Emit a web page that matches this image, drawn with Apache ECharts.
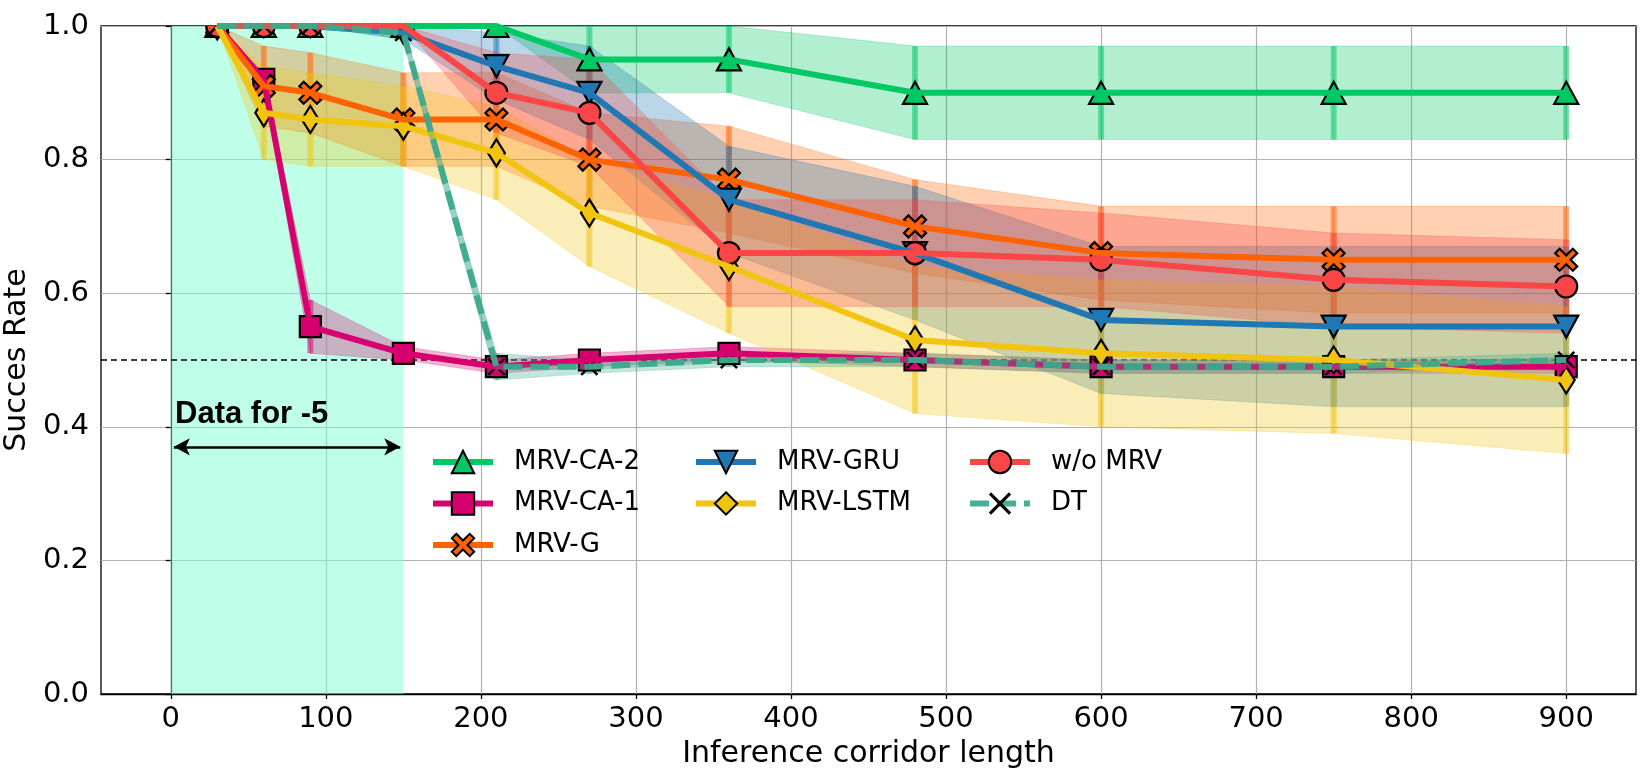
<!DOCTYPE html>
<html>
<head>
<meta charset="utf-8">
<title>Succes Rate</title>
<script src="https://cdn.jsdelivr.net/npm/echarts@6/dist/echarts.min.js"></script>
<style>
  html, body { margin: 0; padding: 0; background: #fff; }
  #main { width: 1641px; height: 775px; }
</style>
</head>
<body>
<div id="main"></div>
<script>
// corridor lengths (x) and the mean / std of the success rate per model
var lengths = [30, 60, 90, 150, 210, 270, 360, 480, 600, 750, 900];
var xTicks = [0, 100, 200, 300, 400, 500, 600, 700, 800, 900];

var caTwoMean = [1.0, 1.0, 1.0, 1.0, 1.0, 0.95, 0.95, 0.90, 0.90, 0.90, 0.90];
var caTwoStd  = [0, 0, 0, 0, 0, 0.05, 0.05, 0.07, 0.07, 0.07, 0.07];

var caOneMean = [1.0, 0.92, 0.55, 0.51, 0.49, 0.50, 0.51, 0.50, 0.49, 0.49, 0.49];
var caOneStd  = [0, 0.01, 0.04, 0.01, 0.01, 0.01, 0.01, 0.01, 0.01, 0.01, 0.01];

var gMean = [1.0, 0.91, 0.90, 0.86, 0.86, 0.80, 0.77, 0.70, 0.66, 0.65, 0.65];
var gStd  = [0, 0.06, 0.06, 0.07, 0.07, 0.07, 0.08, 0.07, 0.07, 0.08, 0.08];

var gruMean = [1.0, 1.0, 1.0, 0.99, 0.94, 0.90, 0.74, 0.66, 0.56, 0.55, 0.55];
var gruStd  = [0, 0, 0, 0.01, 0.05, 0.07, 0.08, 0.10, 0.11, 0.12, 0.12];

var lstmMean = [1.0, 0.87, 0.86, 0.85, 0.81, 0.72, 0.64, 0.53, 0.51, 0.50, 0.47];
var lstmStd  = [0, 0.07, 0.07, 0.06, 0.07, 0.08, 0.10, 0.11, 0.11, 0.11, 0.11];

var noMrvMean = [1.0, 1.0, 1.0, 1.0, 0.90, 0.87, 0.66, 0.66, 0.65, 0.62, 0.61];
var noMrvStd  = [0, 0, 0, 0, 0.06, 0.08, 0.08, 0.08, 0.07, 0.07, 0.07];

var dtMean = [1.0, 1.0, 1.0, 0.99, 0.49, 0.49, 0.50, 0.50, 0.49, 0.49, 0.50];
var dtStd  = [0, 0, 0, 0.01, 0.02, 0.01, 0.01, 0.01, 0.01, 0.01, 0.01];

// annotation: training data range and chance level
var trainRange = [0, 150];
var arrowEnds = [2, 148];
var arrowY = 0.37;
var chanceLevel = 0.5;

var P_TRI_UP = 'M5,0 L10,9 L0,9 Z';
var P_TRI_DOWN = 'M0,0 L10,0 L5,9 Z';
var P_RECT = 'M0,0 L10,0 L10,10 L0,10 Z';
var P_DIAMOND = 'M5,0 L10,5 L5,10 L0,5 Z';
var P_X_FILLED = 'M2,0 L5,3 L8,0 L10,2 L7,5 L10,8 L8,10 L5,7 L2,10 L0,8 L3,5 L0,2 Z';
var P_X_THIN = 'M1,0 L5,4 L9,0 L10,1 L6,5 L10,9 L9,10 L5,6 L1,10 L0,9 L4,5 L0,1 Z';

var models = [
  { name: 'MRV-CA-2', color: '#00c864', mean: caTwoMean, std: caTwoStd, path: P_TRI_UP, w: 24, h: 22 },
  { name: 'MRV-CA-1', color: '#d6006e', mean: caOneMean, std: caOneStd, path: P_RECT, w: 21, h: 21 },
  { name: 'MRV-G', color: '#ff6200', mean: gMean, std: gStd, path: P_X_FILLED, w: 22, h: 22 },
  { name: 'MRV-GRU', color: '#1f77b4', mean: gruMean, std: gruStd, path: P_TRI_DOWN, w: 24, h: 22 },
  { name: 'MRV-LSTM', color: '#f1c40f', mean: lstmMean, std: lstmStd, path: P_DIAMOND, w: 17, h: 27 },
  { name: 'w/o MRV', color: '#fa4646', mean: noMrvMean, std: noMrvStd, circle: true, w: 22, h: 22 },
  { name: 'DT', color: '#3caa8c', mean: dtMean, std: dtStd, path: P_X_THIN, w: 18, h: 18, dashed: true }
];

var LW = 6;

function boundsOf(m) {
  return lengths.map(function (x, i) {
    return [x, m.mean[i] - m.std[i], m.mean[i] + m.std[i]];
  });
}

// shaded mean +- std band (drawn under every line)
function bandSeries(m) {
  var rows = boundsOf(m);
  return {
    type: 'custom',
    name: m.name + ' std',
    silent: true,
    clip: true,
    z: 2,
    data: rows,
    encode: { x: 0, y: [1, 2] },
    renderItem: function (params, api) {
      var i = params.dataIndex;
      if (i >= rows.length - 1) return null;
      var a = rows[i], b = rows[i + 1];
      return {
        type: 'polygon',
        shape: { points: [api.coord([a[0], a[1]]), api.coord([a[0], a[2]]), api.coord([b[0], b[2]]), api.coord([b[0], b[1]])] },
        style: { fill: m.color, opacity: 0.3, stroke: m.color, lineWidth: 0.8 }
      };
    }
  };
}

// vertical error bars
function errSeries(m) {
  return {
    type: 'custom',
    name: m.name + ' err',
    silent: true,
    clip: true,
    z: 2,
    data: boundsOf(m),
    encode: { x: 0, y: [1, 2] },
    renderItem: function (params, api) {
      var lo = api.coord([api.value(0), api.value(1)]);
      var hi = api.coord([api.value(0), api.value(2)]);
      return {
        type: 'line',
        shape: { x1: lo[0], y1: lo[1], x2: hi[0], y2: hi[1] },
        style: { stroke: m.color, lineWidth: LW, opacity: 0.5 }
      };
    }
  };
}

// the line itself; its symbol only feeds the legend icon
function meanSeries(m) {
  var s = {
    type: 'line',
    name: m.name,
    z: 2,
    data: lengths.map(function (x, i) { return [x, m.mean[i]]; }),
    symbol: m.circle ? 'circle' : 'path://' + m.path,
    symbolSize: 0,
    lineStyle: { color: m.color, width: LW },
    itemStyle: { color: m.color, borderColor: '#000', borderWidth: 2.2 },
    emphasis: { disabled: true }
  };
  if (m.dashed) {
    s.lineStyle = { color: m.color, width: LW, type: [19, 8], opacity: 0.95 };
    s.itemStyle = { color: '#000', borderWidth: 0 };
  }
  return s;
}

// markers clipped to the plot box
function markerSeries(m) {
  return {
    type: 'custom',
    name: m.name + ' marks',
    silent: true,
    clip: true,
    z: 2,
    data: lengths.map(function (x, i) { return [x, m.mean[i]]; }),
    encode: { x: 0, y: 1 },
    renderItem: function (params, api) {
      var p = api.coord([api.value(0), api.value(1)]);
      var style = m.dashed ? { fill: '#000' } : { fill: m.color, stroke: '#000', lineWidth: 2.2 };
      if (m.circle) {
        return { type: 'circle', shape: { cx: p[0], cy: p[1], r: m.w / 2 }, style: style };
      }
      return {
        type: 'path',
        shape: { pathData: m.path, layout: 'cover', x: p[0] - m.w / 2, y: p[1] - m.h / 2, width: m.w, height: m.h },
        style: style
      };
    }
  };
}

// bands first, then every error bar, then lines with their markers
var series = models.map(bandSeries).concat(models.map(errSeries));
models.forEach(function (m) {
  if (m.dashed) {
    // faint solid connecting line under the dashed one
    series.push({
      type: 'line', name: m.name + ' base', silent: true, z: 2,
      data: lengths.map(function (x, i) { return [x, m.mean[i]]; }),
      symbol: 'none', lineStyle: { color: m.color, width: LW, opacity: 0.3 }
    });
  }
  series.push(meanSeries(m));
  series.push(markerSeries(m));
});

// training span, chance line and arrow hang on the first band series
series[0].markArea = {
  silent: true, z: 1,
  itemStyle: { color: 'rgba(127,255,212,0.5)' },
  data: [[{ xAxis: trainRange[0] }, { xAxis: trainRange[1] }]]
};
series[0].markLine = {
  silent: true, z: 1.9,
  symbol: 'none',
  label: { show: false },
  data: [
    { yAxis: chanceLevel, lineStyle: { color: '#000', width: 1.5, type: [6, 4] } },
    [
      { coord: [arrowEnds[0], arrowY], symbol: 'arrow', symbolSize: [13, 16], lineStyle: { color: '#000', width: 2.5, type: 'solid' } },
      { coord: [arrowEnds[1], arrowY], symbol: 'arrow', symbolSize: [13, 16] }
    ]
  ]
};

var legendCommon = {
  orient: 'vertical',
  top: 448,
  padding: 0,
  itemWidth: 60,
  itemHeight: 28,
  itemGap: 13.5,
  selectedMode: false,
  lineStyle: { width: LW },
  textStyle: { fontFamily: 'DejaVu Sans', fontSize: 26, color: '#000', lineHeight: 28, padding: [0, 0, 0, 16] }
};
function legendAt(left, names) {
  return Object.assign({}, legendCommon, { left: left, data: names });
}

var chart = echarts.init(document.getElementById('main'), null, { renderer: 'canvas' });
chart.setOption({
  animation: false,
  backgroundColor: '#fff',
  grid: {
    left: 101, right: 5, top: 26, bottom: 81,
    outerBoundsMode: 'none',
    show: true, borderColor: '#000', borderWidth: 1.3, backgroundColor: 'transparent'
  },
  legend: [
    legendAt(430, ['MRV-CA-2', 'MRV-CA-1', 'MRV-G']),
    legendAt(693, ['MRV-GRU', 'MRV-LSTM']),
    legendAt(967, ['w/o MRV', 'DT'])
  ],
  xAxis: {
    type: 'value',
    min: -45, max: 945,
    name: 'Inference corridor length',
    nameLocation: 'middle',
    nameGap: 44,
    nameTextStyle: { fontFamily: 'DejaVu Sans', fontSize: 30, color: '#000' },
    axisLine: { show: true, onZero: false, lineStyle: { color: '#000', width: 1.3 } },
    axisTick: { show: true, length: 5, customValues: xTicks, lineStyle: { color: '#000', width: 1.3 } },
    axisLabel: { customValues: xTicks, margin: 11, fontFamily: 'DejaVu Sans', fontSize: 29, color: '#000' },
    splitLine: { show: true, lineStyle: { color: '#b0b0b0', width: 1.2 } }
  },
  yAxis: {
    type: 'value',
    min: 0, max: 1, interval: 0.2,
    name: 'Succes Rate',
    nameLocation: 'middle',
    nameGap: 56,
    nameRotate: 90,
    nameTextStyle: { fontFamily: 'DejaVu Sans', fontSize: 30, color: '#000' },
    axisLine: { show: true, lineStyle: { color: '#000', width: 1.3 } },
    axisTick: { show: true, length: 5, lineStyle: { color: '#000', width: 1.3 } },
    axisLabel: {
      margin: 12, fontFamily: 'DejaVu Sans', fontSize: 29, color: '#000',
      formatter: function (v) { return v.toFixed(1); }
    },
    splitLine: { show: true, lineStyle: { color: '#b0b0b0', width: 1.2 } }
  },
  graphic: [{
    type: 'text',
    left: 175, top: 399,
    z: 10,
    style: { text: 'Data for -5', fontFamily: 'Liberation Sans', fontWeight: 'bold', fontSize: 31, fill: '#000' }
  }],
  series: series
});
</script>
</body>
</html>
